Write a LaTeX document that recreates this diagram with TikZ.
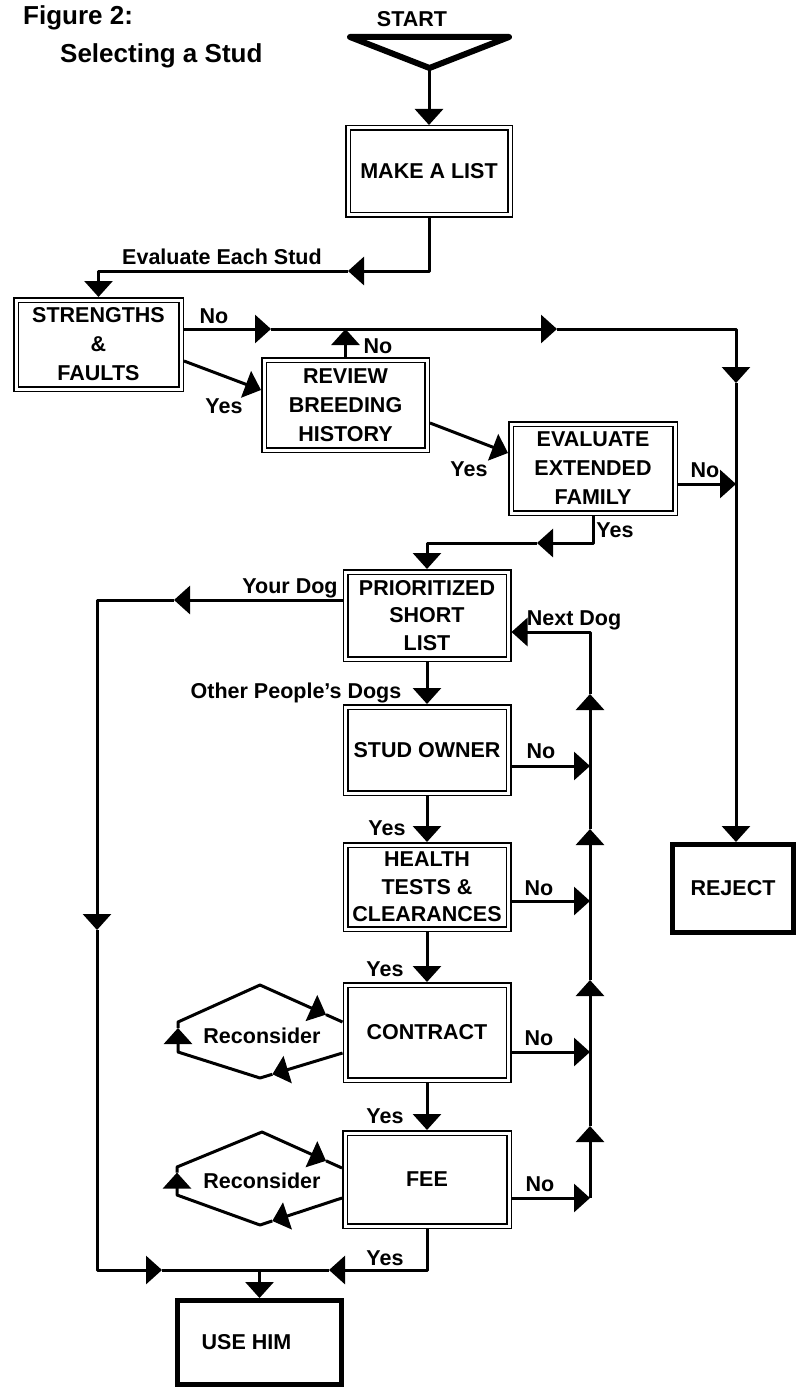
\documentclass[tikz,border=0pt]{standalone}
\usepackage{fontspec}
\setmainfont{Liberation Sans}
\usetikzlibrary{arrows.meta,calc}
\newcommand\myboxfont{\fontsize{21.5}{29}\selectfont\bfseries}
\newcommand\myhltfont{\fontsize{21.5}{27.5}\selectfont\bfseries}
\newcommand\mylblfont{\fontsize{21.5}{24}\selectfont\bfseries}
\newcommand\myttlfont{\fontsize{26}{30}\selectfont\bfseries}
\begin{document}
\begin{tikzpicture}[x=1pt,y=-1pt,
  tri/.tip={Triangle[width=28pt,length=16pt]},
  conn/.style={line width=3pt, line join=round},
  box/.style 2 args={draw, double, line width=1.5pt, double distance=3pt, outer sep=3pt, inner sep=0pt, minimum width=#1, minimum height=#2, align=center, font=\myboxfont},
  endbox/.style 2 args={draw, line width=5pt, outer sep=2.5pt, inner sep=0pt, minimum width=#1, minimum height=#2, align=center, font=\myboxfont},
  lbl/.style={font=\mylblfont, anchor=base, inner sep=0pt},
  ttl/.style={font=\myttlfont, anchor=base west, inner sep=0pt}]
\useasboundingbox (0,0) rectangle (802,1388);

% titles
\node[ttl] (fig) at (23,25) {Figure 2:};
\node[ttl] (sub) at (60,63) {Selecting a Stud};

% start
\draw[line width=6pt, line join=round] (350,37) -- (509,37) -- (429.5,68) -- cycle;
\coordinate (apex) at (429,70);
\node[lbl] (start) at (412,27) {START};

% boxes
\node[box={162}{87}] (make) at (429,171.5) {MAKE A LIST};
\node[box={165}{89}] (str) at (98.5,344.5) {STRENGTHS\\\&\\FAULTS};
\node[box={163}{90}] (rev) at (345.5,405) {REVIEW\\BREEDING\\HISTORY};
\node[box={164}{89}] (evf) at (593,468.5) {EVALUATE\\EXTENDED\\FAMILY};
\node[box={163}{87}, font=\myhltfont] (psl) at (427,615.5) {PRIORITIZED\\SHORT\\LIST};
\node[box={163}{86}] (own) at (427,750) {STUD OWNER};
\node[box={163}{84}, font=\myhltfont] (hlt) at (427,887) {HEALTH\\TESTS \&\\CLEARANCES};
\node[box={163}{95}] (con) at (427,1032.5) {CONTRACT};
\node[box={164}{93}] (fee) at (427,1179.5) {FEE};
\node[endbox={121}{88}] (rej) at (733,888.5) {REJECT};
\node[endbox={164}{84}] (use) at (259.5,1342.5) {USE HIM\hspace{26pt}};

% start -> make
\draw[conn,-{tri}] (apex) -- (apex |- make.north);

% make -> strengths
\coordinate (ev) at (348,271);
\draw[conn,-{tri}] (make.south) |- (ev);
\draw[conn,-{tri}] (ev) -| (str.north);
\node[lbl] (levs) at (222,265) {Evaluate Each Stud};

% strengths No -> reject
\coordinate (sN) at ([yshift=15.5pt]str.east);
\coordinate (n1) at (271,329);
\coordinate (n2) at (557,329);
\coordinate (n3) at (736,383);
\draw[conn,-{tri}] (sN) -- (n1);
\draw[conn,-{tri}] (n1) -- (n2);
\draw[conn,-{tri}] (n2) -| (n3);
\draw[conn,-{tri}] (n3) -- (n3 |- rej.north);
\node[lbl] (lno1) at (214,323) {No};

% review No
\draw[conn,-{tri}] (rev.north) -- (rev.north |- n1);
\node[lbl] (lno2) at (378,353) {No};

% Yes diagonals
\draw[conn,-{tri}] ([yshift=-16.5pt]str.east) -- ([yshift=15pt]rev.west);
\node[lbl] (lyes1) at (224,413) {Yes};
\draw[conn,-{tri}] ([yshift=-18pt]rev.east) -- ([yshift=15.5pt]evf.west);
\node[lbl] (lyes2) at (469,476) {Yes};

% evaluate No
\coordinate (eN) at ([yshift=-15.5pt]evf.east);
\draw[conn,-{tri}] (eN) -- (eN -| n3);
\node[lbl] (lno3) at (705,477) {No};

% evaluate Yes
\coordinate (e1) at (537,543);
\draw[conn,-{tri}] (evf.south) |- (e1);
\draw[conn,-{tri}] (e1) -| (psl.north);
\node[lbl] (lyes3) at (615,537) {Yes};

% Your Dog
\coordinate (pY) at ([yshift=15.5pt]psl.west);
\coordinate (y1) at (174,600);
\coordinate (y2) at (97,930);
\coordinate (y3) at (162,1270);
\coordinate (jn) at (259.5,1270);
\coordinate (f1) at (329,1270);
\draw[conn,-{tri}] (pY) -- (y1);
\draw[conn,-{tri}] (y1) -| (y2);
\draw[conn,-{tri}] (y2) |- (y3);
\draw[conn] (y3) -- (jn);
\draw[conn,-{tri}] (fee.south) |- (f1);
\draw[conn] (f1) -- (jn);
\draw[conn,-{tri}] (jn) -- (use.north);
\node[lbl] (lyd) at (290,593) {Your Dog};
\node[lbl] (lyes8) at (385,1265) {Yes};

% main column
\draw[conn,-{tri}] (psl.south) -- (own.north);
\draw[conn,-{tri}] (own.south) -- (hlt.north);
\draw[conn,-{tri}] (hlt.south) -- (con.north);
\draw[conn,-{tri}] (con.south) -- (fee.north);
\node[lbl] (lopd) at (296,698) {Other People's Dogs};
\node[lbl] (lyes4) at (387,835) {Yes};
\node[lbl] (lyes5) at (385,976) {Yes};
\node[lbl] (lyes6) at (385,1123) {Yes};

% No lines to the right
\coordinate (vb) at (590,1198);
\coordinate (o1) at ([yshift=-16pt]own.east);
\coordinate (o2) at ([yshift=-14pt]hlt.east);
\coordinate (o3) at ([yshift=-19.5pt]con.east);
\coordinate (o4) at ([yshift=-18.5pt]fee.east);
\draw[conn,-{tri}] (o1) -- (o1 -| vb);
\draw[conn,-{tri}] (o2) -- (o2 -| vb);
\draw[conn,-{tri}] (o3) -- (o3 -| vb);
\draw[conn,-{tri}] (o4) -- (o4 -| vb);
\node[lbl] (lno4) at (541,758) {No};
\node[lbl] (lno5) at (539,895) {No};
\node[lbl] (lno6) at (539,1045) {No};
\node[lbl] (lno7) at (540,1191) {No};

% return line (Next Dog)
\coordinate (u1) at (590,1126);
\coordinate (u2) at (590,980);
\coordinate (u3) at (590,829);
\coordinate (u4) at (590,694);
\coordinate (pN) at ([yshift=-16.5pt]psl.east);
\draw[conn,-{tri}] (vb) -- (u1);
\draw[conn,-{tri}] (u1) -- (u2);
\draw[conn,-{tri}] (u2) -- (u3);
\draw[conn,-{tri}] (u3) -- (u4);
\draw[conn,-{tri}] (u4) |- (pN);
\node[lbl] (lnd) at (574,625) {Next Dog};

% Reconsider loop (contract)
\coordinate (cup) at ([yshift=10.5pt]con.west);
\coordinate (clo) at ([yshift=-20.5pt]con.west);
\coordinate (ctop) at (260,985);
\coordinate (cl1) at (178,1022);
\coordinate (cl2) at (178,1052);
\coordinate (cbot) at (260,1078);
\draw[conn,-{tri}] (clo) -- ($(clo)!0.85!(cbot)$) coordinate (ca);
\draw[conn,-{tri}] (ca) -- (cbot) -- (cl2) -- ($(cl2)!0.8!(cl1)$) coordinate (cb);
\draw[conn,-{tri}] (cb) -- (cl1) -- (ctop) -- ($(ctop)!0.8!(cup)$) coordinate (cc);
\draw[conn] (cc) -- (cup);
\node[lbl] (lrc1) at (262,1043) {Reconsider};

% Reconsider loop (fee)
\coordinate (fup) at ([yshift=11.5pt]fee.west);
\coordinate (flo) at ([yshift=-18.5pt]fee.west);
\coordinate (ftop) at (262,1132);
\coordinate (fl1) at (177,1167);
\coordinate (fl2) at (177,1195);
\coordinate (fbot) at (260,1225);
\draw[conn,-{tri}] (flo) -- ($(flo)!0.85!(fbot)$) coordinate (fa);
\draw[conn,-{tri}] (fa) -- (fbot) -- (fl2) -- ($(fl2)!0.8!(fl1)$) coordinate (fb);
\draw[conn,-{tri}] (fb) -- (fl1) -- (ftop) -- ($(ftop)!0.8!(fup)$) coordinate (fc);
\draw[conn] (fc) -- (fup);
\node[lbl] (lrc2) at (262,1188) {Reconsider};
\end{tikzpicture}
\end{document}
